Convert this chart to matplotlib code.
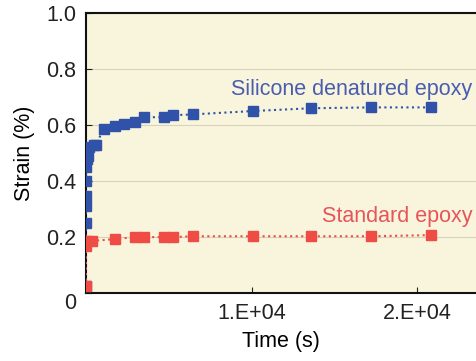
import matplotlib
matplotlib.use('Agg')
import matplotlib.pyplot as plt

plt.rcParams['font.family'] = ['Liberation Sans', 'DejaVu Sans']

# silicone denatured epoxy
t_sil = [0, 0, 0, 0, 0, 30, 60, 120, 180, 500, 600, 1080, 1750, 2290, 2950, 3500,
         4700, 5240, 6450, 10060, 13600, 17200, 20800]
s_sil = [0.025, 0.25, 0.31, 0.345, 0.40, 0.45, 0.48, 0.49, 0.52, 0.53, 0.53, 0.586,
         0.596, 0.603, 0.61, 0.628, 0.628, 0.635, 0.638, 0.65, 0.66, 0.663, 0.663]

# standard epoxy
t_std = [0, 0, 60, 360, 1750, 2950, 3500, 4700, 5240, 6450, 10060, 13600, 17200, 20800]
s_std = [0.025, 0.17, 0.185, 0.186, 0.193, 0.2, 0.2, 0.2, 0.2, 0.203, 0.203,
         0.203, 0.203, 0.207]

blue = '#3052a8'
red = '#ee4c44'

fig = plt.figure(figsize=(4.77, 3.61), dpi=100)
ax = fig.add_axes([0.180, 0.188, 0.82, 0.776])
ax.set_facecolor('#f8f5dc')

ax.plot(t_sil, s_sil, ls=':', color=blue, lw=1.5, marker='s', ms=7,
        markeredgecolor=blue, zorder=3)
ax.plot(t_std, s_std, ls=':', color=red, lw=1.5, marker='s', ms=7,
        markeredgecolor=red, zorder=3)

ax.text(23300, 0.728, 'Silicone denatured epoxy', color='#4a5cb0', fontsize=15.5,
        ha='right', va='center')
ax.text(23300, 0.275, 'Standard epoxy', color='#e8545a', fontsize=15.5,
        ha='right', va='center')

ax.set_xlim(0, 23600)
ax.set_ylim(0, 1.0)
ax.set_xticks([10000, 20000])
ax.set_xticklabels(['1.E+04', '2.E+04'])
ax.set_yticks([0, 0.2, 0.4, 0.6, 0.8, 1.0])
labs = ax.set_yticklabels(['0', '0.2', '0.4', '0.6', '0.8', '1.0'])
labs[0].set_va('top')
ax.yaxis.grid(True, color='#d6d2bc', lw=0.8)
ax.set_axisbelow(True)
ax.tick_params(direction='in', labelsize=15.5, colors='#222222', length=4)
ax.tick_params(axis='x', pad=7)
ax.tick_params(axis='y', pad=7)

ax.spines['right'].set_visible(False)
for s in ['left', 'top', 'bottom']:
    ax.spines[s].set_linewidth(1.5)
    ax.spines[s].set_color('#111111')

ax.set_xlabel('Time (s)', fontsize=15.5, labelpad=5)
ax.set_ylabel('Strain (%)', fontsize=15.5, labelpad=8)

fig.savefig('out.png', dpi=100)
